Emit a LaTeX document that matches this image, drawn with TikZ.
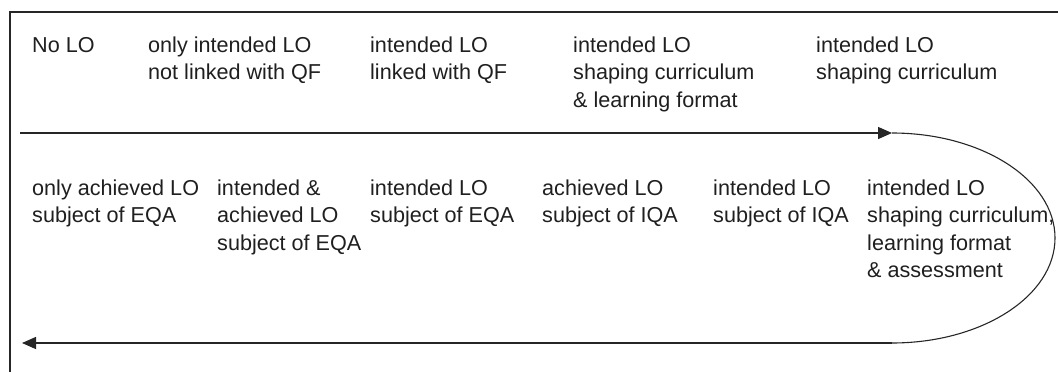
\documentclass[tikz,border=0pt]{standalone}
\usepackage{fontspec}
\setmainfont{Liberation Sans}
\usetikzlibrary{arrows.meta}
\begin{document}
\begin{tikzpicture}[x=1pt,y=-1pt,
  frame/.style={line width=1.3pt,draw=black!85},
  flow/.style={line width=1.4pt,draw=black!85,-{Triangle[length=14pt,width=12pt]}},
  loop/.style={line width=1.1pt,draw=black!85},
  label/.style={anchor=north west,inner sep=0pt,align=left,text=black!88,
    font=\fontsize{21.6}{27.5}\selectfont}]
\useasboundingbox (0,0) rectangle (1058,372);
% open frame: left side and top only
\draw[frame] (10,372) -- (10,12) -- (1058,12);

% upper row of stages (baseline 52)
\node[label] (s1) at (32,32.75)  {\strut No LO};
\node[label] (s2) at (148,32.75) {\strut only intended LO\\not linked with QF};
\node[label] (s3) at (370,32.75) {\strut intended LO\\linked with QF};
\node[label] (s4) at (573,32.75) {\strut intended LO\\shaping curriculum\\\& learning format};
\node[label] (s5) at (816,32.75) {\strut intended LO\\shaping curriculum};

% lower row of stages (baseline 195)
\node[label] (s6)  at (867,175.75) {\strut intended LO\\shaping curriculum,\\learning format\\\& assessment};
\node[label] (s7)  at (713,175.75) {\strut intended LO\\subject of IQA};
\node[label] (s8)  at (542,175.75) {\strut achieved LO\\subject of IQA};
\node[label] (s9)  at (370,175.75) {\strut intended LO\\subject of EQA};
\node[label] (s10) at (217,175.75) {\strut intended \&\\achieved LO\\subject of EQA};
\node[label] (s11) at (32,175.75)  {\strut only achieved LO\\subject of EQA};

% path of development
\coordinate (topL) at (20,133);
\coordinate (topR) at (892,133);
\coordinate (botR) at (892,343);
\coordinate (botL) at (22,343);
\draw[flow] (topL) -- (topR);
\draw[loop] (topR) arc[start angle=-90,end angle=90,x radius=163,y radius=105];
\draw[flow] (botR) -- (botL);
\end{tikzpicture}
\end{document}
